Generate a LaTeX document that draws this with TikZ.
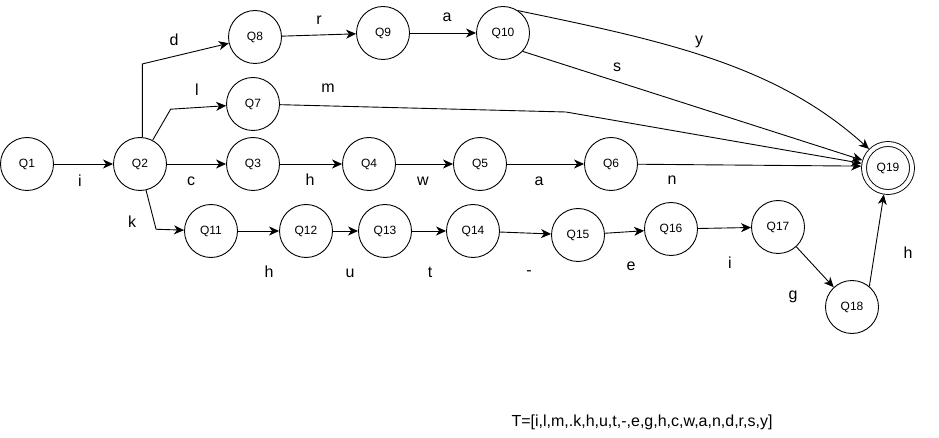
\documentclass[tikz,border=0pt]{standalone}
\usepackage{fontspec}
\setmainfont{Liberation Sans}
\usetikzlibrary{arrows.meta}

\begin{document}
\begin{tikzpicture}[x=1pt,y=-1pt,line width=0.9pt,
  estado/.style={draw,circle,minimum size=53pt,inner sep=0pt,font=\fontsize{12}{14}\selectfont},
  final/.style={estado,double,double distance=4pt,minimum size=48pt,outer sep=2.9pt},
  etiq/.style={inner sep=0pt,font=\fontsize{16}{19}\selectfont},
  flecha/.style={-{Stealth[length=10pt,width=9pt,inset=3pt]}}]
\useasboundingbox (0,0) rectangle (939,438);

% Estados
\node[estado] (q1) at (27,164) {Q1};
\node[estado] (q2) at (140,164) {Q2};
\node[estado] (q3) at (253,164) {Q3};
\node[estado] (q4) at (369,164) {Q4};
\node[estado] (q5) at (480,164) {Q5};
\node[estado] (q6) at (611,164) {Q6};
\node[estado] (q7) at (253,104) {Q7};
\node[estado] (q8) at (255,37) {Q8};
\node[estado] (q9) at (383,33) {Q9};
\node[estado] (q10) at (503,33) {Q10};
\node[estado] (q11) at (211,231) {Q11};
\node[estado] (q12) at (306,231) {Q12};
\node[estado] (q13) at (385,231) {Q13};
\node[estado] (q14) at (473,231) {Q14};
\node[estado] (q15) at (578,235) {Q15};
\node[estado] (q16) at (671,229) {Q16};
\node[estado] (q17) at (778,227) {Q17};
\node[estado] (q18) at (852,307) {Q18};
\node[final] (q19) at (888,168) {Q19};

% Transiciones desde Q1 y Q2
\draw[flecha] (q1) -- (q2);
\draw[flecha] (q2.85) -- (q2.85 |- q8.south) -- (q8);
\draw[flecha] (q2.62) -- ++(18,-31) -- (q7);
\draw[flecha] (q2) -- (q3);
\draw[flecha] (q2.-77) -- ++(10,39) -- (q11);

% Rama superior
\draw[flecha] (q8) -- (q9);
\draw[flecha] (q9) -- (q10);
\draw[flecha] (q10.56) .. controls (670,42) and (777,66) .. (q19.135);
\draw[flecha] (q10.-43) -- (q19.163);
\draw[flecha] (q7) -- (566,112) -- (q19.170);

% Rama central
\draw[flecha] (q3) -- (q4);
\draw[flecha] (q4) -- (q5);
\draw[flecha] (q5) -- (q6);
\draw[flecha] (q6) -- (q19.176);

% Rama inferior
\draw[flecha] (q11) -- (q12);
\draw[flecha] (q12) -- (q13);
\draw[flecha] (q13) -- (q14);
\draw[flecha] (q14) -- (q15);
\draw[flecha] (q15) -- (q16);
\draw[flecha] (q16) -- (q17);
\draw[flecha] (q17) -- (q18);
\draw[flecha] (q18.50) -- (q19);

% Etiquetas
\node[etiq] (e12) at (80,181) {i};
\node[etiq] (e28) at (174,40) {d};
\node[etiq] (e27) at (197,90) {l};
\node[etiq] (e23) at (191,181) {c};
\node[etiq] (e211) at (132,222) {k};
\node[etiq] (e89) at (319,20) {r};
\node[etiq] (e910) at (447,17) {a};
\node[etiq] (e1019y) at (699,42) {y};
\node[etiq] (e1019s) at (617,67) {s};
\node[etiq] (e719) at (328,88) {m};
\node[etiq] (e34) at (310,180) {h};
\node[etiq] (e45) at (423,181) {w};
\node[etiq] (e56) at (539,181) {a};
\node[etiq] (e619) at (672,180) {n};
\node[etiq] (e1112) at (269,272) {h};
\node[etiq] (e1213) at (350,273) {u};
\node[etiq] (e1314) at (430,272) {t};
\node[etiq] (e1415) at (529,273) {-};
\node[etiq] (e1516) at (631,266) {e};
\node[etiq] (e1617) at (730,263) {i};
\node[etiq] (e1718) at (793,297) {g};
\node[etiq] (e1819) at (908,253) {h};

% Alfabeto
\node[etiq,anchor=base] (alfabeto) at (642,426) {T=[i,l,m,.k,h,u,t,-,e,g,h,c,w,a,n,d,r,s,y]};

\end{tikzpicture}
\end{document}
